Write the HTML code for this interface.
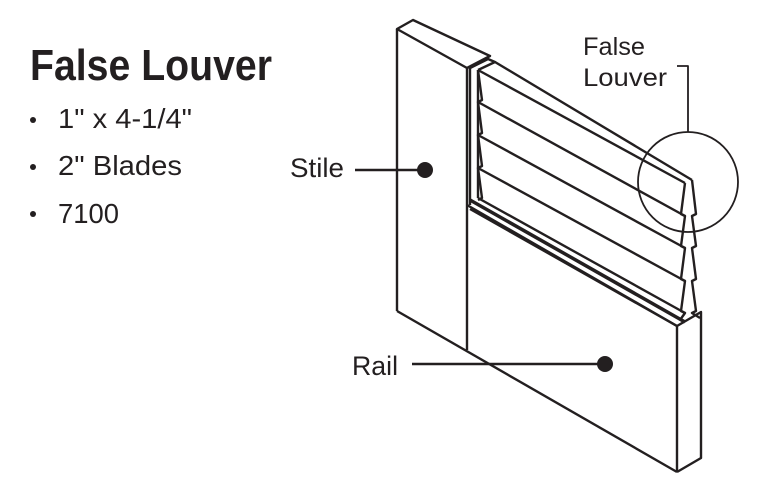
<!DOCTYPE html>
<html><head><style>
html,body{margin:0;padding:0;background:#fff}
svg{display:block}
text{font-family:"Liberation Sans",sans-serif;fill:#231f20}
</style></head><body>
<svg width="764" height="497" viewBox="0 0 764 497" xmlns="http://www.w3.org/2000/svg">
<text x="30" y="80" font-size="44" font-weight="bold" textLength="242" lengthAdjust="spacingAndGlyphs">False Louver</text>
<circle cx="33" cy="120" r="3" fill="#231f20"/>
<circle cx="33" cy="167" r="3" fill="#231f20"/>
<circle cx="33" cy="214" r="3" fill="#231f20"/>
<text x="58" y="128" font-size="28" textLength="134" lengthAdjust="spacingAndGlyphs">1" x 4-1/4"</text>
<text x="58" y="175" font-size="28" textLength="124" lengthAdjust="spacingAndGlyphs">2" Blades</text>
<text x="58" y="223" font-size="28" textLength="61" lengthAdjust="spacingAndGlyphs">7100</text>
<text x="290" y="177" font-size="27" textLength="54" lengthAdjust="spacingAndGlyphs">Stile</text>
<text x="352" y="375" font-size="27" textLength="46" lengthAdjust="spacingAndGlyphs">Rail</text>
<text x="583" y="55" font-size="25" textLength="62" lengthAdjust="spacingAndGlyphs">False</text>
<text x="583" y="86" font-size="25" textLength="84" lengthAdjust="spacingAndGlyphs">Louver</text>
<g fill="none" stroke="#231f20" stroke-width="2.4" stroke-linejoin="round">
<polygon points="397,29 413,20 490,56 467,68" fill="#fff"/>
<line x1="397" y1="29" x2="397" y2="311"/>
<line x1="467" y1="68" x2="467" y2="350"/>
<line x1="397" y1="311" x2="677" y2="472"/>
<line x1="467" y1="205" x2="677" y2="326"/>
<line x1="677" y1="326" x2="677" y2="472"/>
<polyline points="677,472 701,458 701,312 677,326"/>
<line x1="470" y1="200" x2="685" y2="322" stroke-width="3.5"/>
<line x1="470" y1="209" x2="677" y2="326"/>
<polyline points="470,68 470,205"/>
<polyline points="470,68 488,59 495,62 478,70"/>
<line x1="478" y1="70" x2="685" y2="183"/>
<line x1="495" y1="62" x2="692" y2="180"/>
<line x1="478" y1="70" x2="478" y2="198"/>
<polyline points="478,70 482,100 478,102 482,133 478,135 482,166 478,168 482,198 478,200"/>
<line x1="478" y1="102" x2="685" y2="216"/>
<line x1="478" y1="135" x2="685" y2="248"/>
<line x1="478" y1="168" x2="685" y2="281"/>
<line x1="478" y1="198" x2="685" y2="313"/>
<polyline points="685,183 681,214 685,216 681,246 685,248 681,279 685,281 681,311 685,313 680,320"/>
<polyline points="692,180 696,214 692,216 696,246 692,248 696,279 692,281 696,311 692,313 700,318"/>
<circle cx="688" cy="182" r="50" stroke-width="1.8"/>
<polyline points="677,66 688,66 688,132" stroke-width="1.8"/>
<line x1="355" y1="170" x2="425" y2="170"/>
<line x1="412" y1="364" x2="605" y2="364"/>
</g>
<circle cx="425" cy="170" r="8" fill="#231f20"/>
<circle cx="605" cy="364" r="8" fill="#231f20"/>
</svg>
</body></html>
